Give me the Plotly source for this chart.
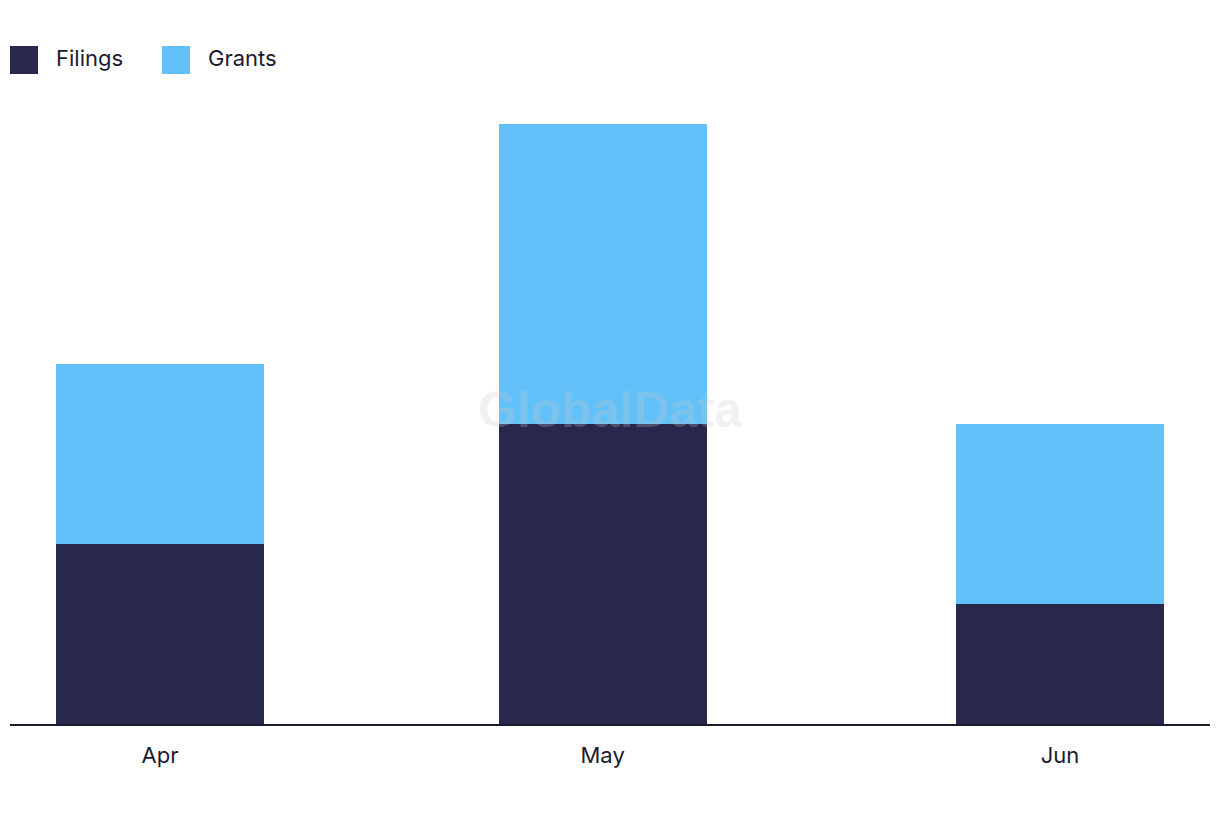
import plotly.graph_objects as go

months = ["2023-04-01", "2023-05-01", "2023-06-01"]
filings = [3, 5, 2]
grants = [3, 5, 3]
series_names = ["Filings", "Grants"]
colors = ["#28284C", "#62C1F8"]

fig = go.Figure()
fig.add_trace(go.Bar(x=months, y=filings, name=series_names[0], marker_color=colors[0],
                     marker_line_width=0, width=1.218e9, showlegend=False))
fig.add_trace(go.Bar(x=months, y=grants, name=series_names[1], marker_color=colors[1],
                     marker_line_width=0, width=1.218e9, showlegend=False))

font_family = "Inter, Lato, sans-serif"

# custom legend (large squares); coordinates relative to plot area (screen 10..1210 x, 124..724 y)
legend_x = [10, 162]
shapes = []
annotations = []
for i, name in enumerate(series_names):
    x0 = legend_x[i]
    shapes.append(dict(type="rect", xref="paper", yref="paper",
                       x0=(x0 - 10) / 1200, x1=(x0 + 28 - 10) / 1200,
                       y0=(724 - 74) / 600, y1=(724 - 46) / 600,
                       fillcolor=colors[i], line=dict(width=0)))
    annotations.append(dict(text=name, xref="paper", yref="paper",
                            x=(x0 + 44 - 10) / 1200, y=(724 - 58) / 600,
                            xanchor="left", yanchor="middle", showarrow=False,
                            font=dict(size=22, color="#1b1b2f", family=font_family)))

annotations.append(dict(text="<b>GlobalData</b>", xref="paper", yref="paper",
                        x=(610 - 10) / 1200, y=(724 - 410) / 600, xanchor="center", yanchor="middle",
                        showarrow=False,
                        font=dict(size=50, color="rgba(200,200,200,0.25)",
                                  family="Liberation Sans, Arial, sans-serif")))

fig.update_layout(
    barmode="stack",
    width=1220, height=822,
    margin=dict(l=2, r=18, t=116, b=106),
    plot_bgcolor="white", paper_bgcolor="white",
    shapes=shapes, annotations=annotations,
    xaxis=dict(type="date", range=["2023-03-21 20:00", "2023-06-11 04:00"],
               tickformat="%b", dtick="M1", tick0="2023-04-01",
               showgrid=False, zeroline=False,
               showline=True, linecolor="#1b1b2f", linewidth=2,
               ticks="", ticklabelstandoff=11,
               tickfont=dict(size=22, color="#1b1b2f", family=font_family)),
    yaxis=dict(range=[0, 10], visible=False, showgrid=False),
)

fig.write_html("out.html")
